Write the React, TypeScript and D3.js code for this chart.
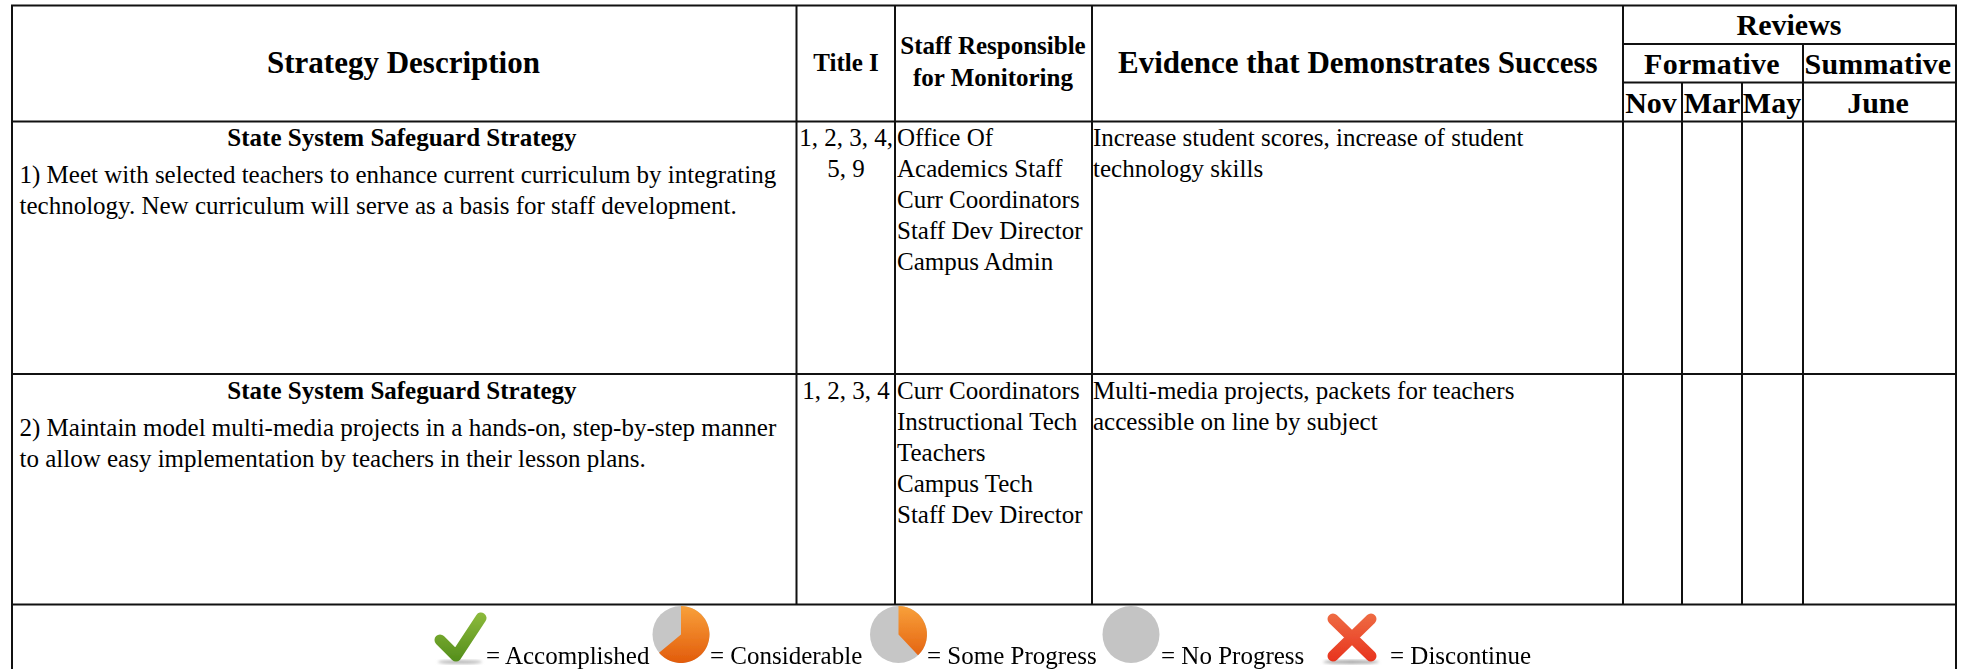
import React from 'react';
import * as d3 from 'd3';

const SERIF = '"Liberation Serif", "Times New Roman", serif';

// table content
const headerMain = ['Strategy Description', 'Title I', 'Evidence that Demonstrates Success'];
const staffHeader = ['Staff Responsible', 'for Monitoring'];
const reviewHeader = ['Reviews', 'Formative', 'Summative'];
const months = ['Nov', 'Mar', 'May', 'June'];
const strategyTitle = 'State System Safeguard Strategy';
const strategies = [
  ['1) Meet with selected teachers to enhance current curriculum by integrating', 'technology. New curriculum will serve as a basis for staff development.'],
  ['2) Maintain model multi-media projects in a hands-on, step-by-step manner', 'to allow easy implementation by teachers in their lesson plans.'],
];
const titleOne = [['1, 2, 3, 4,', '5, 9'], ['1, 2, 3, 4']];
const staff = [
  ['Office Of', 'Academics Staff', 'Curr Coordinators', 'Staff Dev Director', 'Campus Admin'],
  ['Curr Coordinators', 'Instructional Tech', 'Teachers', 'Campus Tech', 'Staff Dev Director'],
];
const evidence = [
  ['Increase student scores, increase of student', 'technology skills'],
  ['Multi-media projects, packets for teachers', 'accessible on line by subject'],
];
const legendLabels = ['= Accomplished', '= Considerable', '= Some Progress', '= No Progress', '= Discontinue'];
const pieShares = [0.64, 0.38];

const columnEdges = [12, 796.5, 895, 1092, 1623, 1682, 1742, 1803, 1956];
const rowEdges = [5.5, 121.5, 374, 604.5];
const rowBaselines = [146, 399];
const monthCenters = [1651, 1712, 1772, 1878];
const LINE = 31;

const arc = d3.arc();

const Lines = ({ lines, x, y, anchor = 'start', size = 25, weight = 'normal', spacing = 0 }: any) => (
  <text fontFamily={SERIF} fontSize={size} fontWeight={weight} textAnchor={anchor} letterSpacing={spacing} fill="#000">
    {lines.map((l: string, i: number) => (
      <tspan key={i} x={x} y={y + i * LINE}>{l}</tspan>
    ))}
  </text>
);

const Pie = ({ cx, share }: { cx: number; share: number }) => (
  <g transform={`translate(${cx},634.5)`}>
    <circle r={28.5} fill="#c6c6c6" />
    <path
      d={arc({ innerRadius: 0, outerRadius: 28.5, startAngle: 0, endAngle: share * 2 * Math.PI }) as string}
      fill="url(#orangeGrad)"
    />
  </g>
);

export default function App() {
  const xs = columnEdges;
  const ys = rowEdges;
  const lineProps = { stroke: '#111', strokeWidth: 2 };
  return (
    <svg width={1971} height={669} style={{ position: 'absolute', left: 0, top: 0, background: '#fff' }}>
      <defs>
        <linearGradient id="orangeGrad" gradientUnits="userSpaceOnUse" x1="0" y1="-28" x2="0" y2="28">
          <stop offset="0" stopColor="#f8a03a" />
          <stop offset="1" stopColor="#e25c0c" />
        </linearGradient>
        <linearGradient id="greenGrad" gradientUnits="userSpaceOnUse" x1="0" y1="615" x2="0" y2="660">
          <stop offset="0" stopColor="#8ab83a" />
          <stop offset="1" stopColor="#558f1c" />
        </linearGradient>
        <linearGradient id="redGrad" gradientUnits="userSpaceOnUse" x1="0" y1="615" x2="0" y2="660">
          <stop offset="0" stopColor="#ee6a42" />
          <stop offset="1" stopColor="#e8351f" />
        </linearGradient>
        <filter id="soft"><feGaussianBlur stdDeviation="0.7" /></filter>
        <filter id="shadow"><feGaussianBlur stdDeviation="1.5" /></filter>
      </defs>

      {/* outer and horizontal rules */}
      {ys.map((y, i) => (
        <line key={i} x1={xs[0] - 1} x2={xs[8] + 1} y1={y} y2={y} {...lineProps} />
      ))}
      <line x1={xs[0]} x2={xs[0]} y1={ys[0]} y2={669} {...lineProps} />
      <line x1={xs[8]} x2={xs[8]} y1={ys[0]} y2={669} {...lineProps} />
      {[xs[1], xs[2], xs[3], xs[4]].map((x, i) => (
        <line key={i} x1={x} x2={x} y1={ys[0]} y2={ys[3]} {...lineProps} />
      ))}
      <line x1={xs[7]} x2={xs[7]} y1={44} y2={ys[3]} {...lineProps} />
      {[xs[5], xs[6]].map((x, i) => (
        <line key={i} x1={x} x2={x} y1={82.5} y2={ys[3]} {...lineProps} />
      ))}
      <line x1={xs[4]} x2={xs[8]} y1={44} y2={44} {...lineProps} />
      <line x1={xs[4]} x2={xs[8]} y1={82.5} y2={82.5} {...lineProps} />

      {/* header */}
      <Lines lines={[headerMain[0]]} x={403.5} y={73} anchor="middle" size={31} weight="bold" />
      <Lines lines={[headerMain[1]]} x={846} y={71} anchor="middle" size={25} weight="bold" />
      <text fontFamily={SERIF} fontSize={25} fontWeight="bold" textAnchor="middle">
        <tspan x={993} y={54}>{staffHeader[0]}</tspan>
        <tspan x={993} y={86}>{staffHeader[1]}</tspan>
      </text>
      <Lines lines={[headerMain[2]]} x={1118} y={73} size={31} weight="bold" />
      <Lines lines={[reviewHeader[0]]} x={1789} y={35} anchor="middle" size={30} weight="bold" />
      <Lines lines={[reviewHeader[1]]} x={1712} y={74} anchor="middle" size={30} weight="bold" spacing={0.3} />
      <Lines lines={[reviewHeader[2]]} x={1878} y={74} anchor="middle" size={30} weight="bold" spacing={0.2} />
      {months.map((m, i) => (
        <Lines key={m} lines={[m]} x={monthCenters[i]} y={113} anchor="middle" size={30} weight="bold" />
      ))}

      {/* rows */}
      {strategies.map((s, r) => {
        const base = rowBaselines[r];
        return (
          <g key={r}>
            <Lines lines={[strategyTitle]} x={402} y={base} anchor="middle" size={25} weight="bold" />
            <Lines lines={s} x={19.5} y={base + 36.5} />
            <Lines lines={titleOne[r]} x={846} y={base} anchor="middle" />
            <Lines lines={staff[r]} x={897} y={base} />
            <Lines lines={evidence[r]} x={1093} y={base} />
          </g>
        );
      })}

      {/* legend */}
      <ellipse cx={460} cy={662} rx={22} ry={2} fill="#bbb" filter="url(#shadow)" />
      <ellipse cx={1351} cy={662} rx={28} ry={2} fill="#aaa" filter="url(#shadow)" />
      <g filter="url(#soft)">
        <path d="M440,640 L456,656 L481,618" fill="none" stroke="url(#greenGrad)" strokeWidth={11} strokeLinecap="round" strokeLinejoin="round" />
        <Pie cx={681} share={pieShares[0]} />
        <Pie cx={898.5} share={pieShares[1]} />
        <circle cx={1131} cy={634.5} r={28.5} fill="#c4c4c4" />
        <path d="M1333,619 L1371,656 M1371,619 L1333,656" fill="none" stroke="url(#redGrad)" strokeWidth={11} strokeLinecap="round" />
      </g>
      <Lines lines={[legendLabels[0]]} x={486} y={664} />
      <Lines lines={[legendLabels[1]]} x={710} y={664} />
      <Lines lines={[legendLabels[2]]} x={927} y={664} />
      <Lines lines={[legendLabels[3]]} x={1161} y={664} />
      <Lines lines={[legendLabels[4]]} x={1390} y={664} />
    </svg>
  );
}
